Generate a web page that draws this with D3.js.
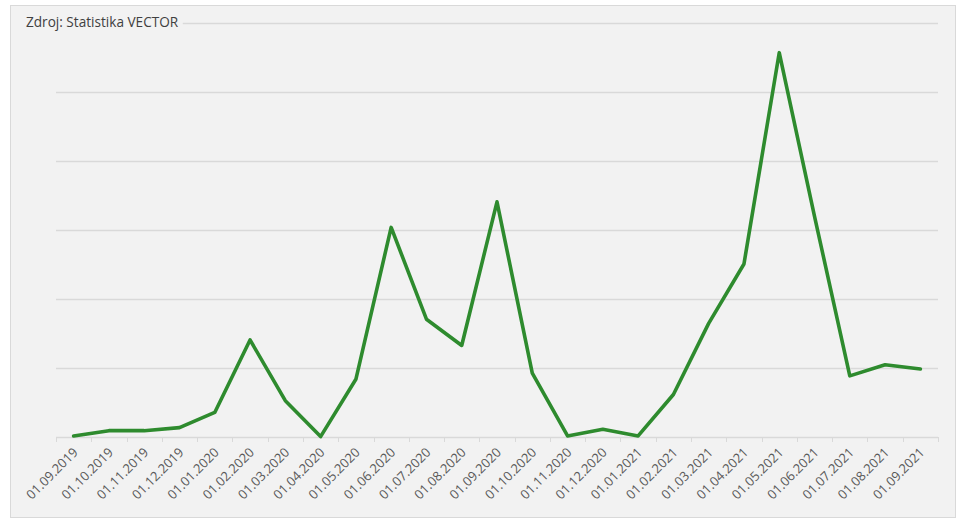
<!DOCTYPE html>
<html>
<head>
<meta charset="utf-8">
<script src="https://cdn.jsdelivr.net/npm/d3@7"></script>
<style>
  html, body { margin: 0; padding: 0; background: #ffffff; }
  svg { display: block; }
</style>
</head>
<body>
<svg id="chart" width="964" height="529"></svg>
<script>
const categories = ["01.09.2019","01.10.2019","01.11.2019","01.12.2019","01.01.2020","01.02.2020","01.03.2020","01.04.2020","01.05.2020","01.06.2020","01.07.2020","01.08.2020","01.09.2020","01.10.2020","01.11.2020","01.12.2020","01.01.2021","01.02.2021","01.03.2021","01.04.2021","01.05.2021","01.06.2021","01.07.2021","01.08.2021","01.09.2021"];
const values = [0.02,0.096,0.096,0.14,0.36,1.41,0.53,0.01,0.84,3.04,1.71,1.33,3.41,0.93,0.02,0.116,0.02,0.62,1.65,2.51,5.57,3.2,0.89,1.05,0.99];
const gridValues = [0,1,2,3,4,5,6];
const sourceLabel = "Zdroj: Statistika VECTOR";

const svg = d3.select("#chart");

// chart area background and border
svg.append("rect")
  .attr("x", 10.5).attr("y", 5.5)
  .attr("width", 945).attr("height", 512)
  .attr("fill", "#f2f2f2")
  .attr("stroke", "#d9d9d9").attr("stroke-width", 1);

const x = d3.scaleBand().domain(categories).range([56, 938]).paddingInner(0).paddingOuter(0);
const y = d3.scaleLinear().domain([0, 6]).range([437.3, 23]);

// gridlines
svg.append("g").selectAll("line")
  .data(gridValues)
  .join("line")
  .attr("x1", 56).attr("x2", 938)
  .attr("y1", d => Math.round(y(d)) + 0.5).attr("y2", d => Math.round(y(d)) + 0.5)
  .attr("stroke", "#d9d9d9").attr("stroke-width", 1.3);

// category axis ticks at band boundaries
const boundaries = categories.map(c => x(c)).concat([x(categories[categories.length - 1]) + x.bandwidth()]);
svg.append("g").selectAll("line")
  .data(boundaries)
  .join("line")
  .attr("x1", d => Math.round(d) + 0.5).attr("x2", d => Math.round(d) + 0.5)
  .attr("y1", Math.round(y(0))).attr("y2", Math.round(y(0)) + 5)
  .attr("stroke", "#d9d9d9").attr("stroke-width", 1);

// category labels
svg.append("g").selectAll("text")
  .data(categories)
  .join("text")
  .attr("transform", d => `translate(${x(d) + x.bandwidth() / 2 + 5},${y(0) + 16}) rotate(-45)`)
  .attr("text-anchor", "end")
  .attr("font-family", "'Open Sans', sans-serif")
  .attr("font-size", 13)
  .attr("fill", "#595959")
  .text(d => d);

// line
const line = d3.line()
  .x((d, i) => x(categories[i]) + x.bandwidth() / 2)
  .y(d => y(d));

svg.append("path")
  .datum(values)
  .attr("d", line)
  .attr("fill", "none")
  .attr("stroke", "#2e8b2e")
  .attr("stroke-width", 3.6)
  .attr("stroke-linejoin", "round")
  .attr("stroke-linecap", "round");

// source label with background mask
const title = svg.append("g");
const tbg = title.append("rect").attr("fill", "#f2f2f2");
const tt = title.append("text")
  .attr("x", 26).attr("y", 27)
  .attr("font-family", "'Open Sans', sans-serif")
  .attr("font-size", 13.6)
  .attr("fill", "#404040")
  .text(sourceLabel);
const bb = tt.node().getBBox();
tbg.attr("x", bb.x - 2).attr("y", bb.y).attr("width", bb.width + 6).attr("height", bb.height);
</script>
</body>
</html>
